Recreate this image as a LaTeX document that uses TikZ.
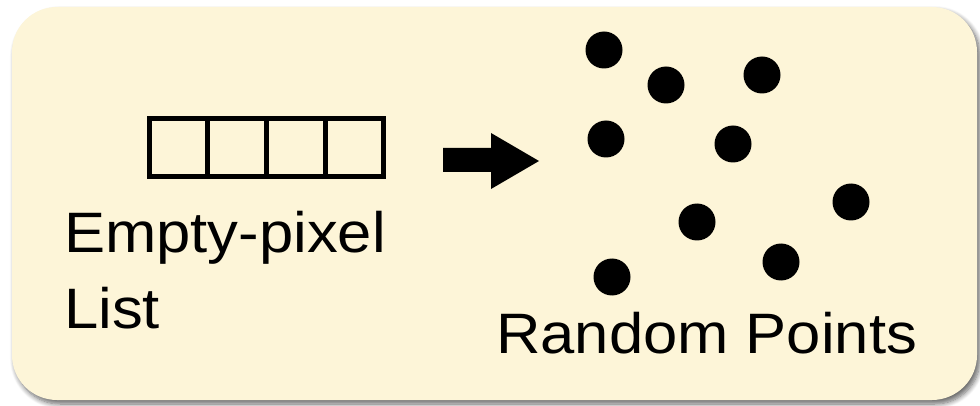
\documentclass[tikz,border=0pt]{standalone}
\usepackage{fontspec}
\setmainfont{Liberation Sans}
\newfontfamily\labfont[FakeStretch=1.08]{Liberation Sans}
\usetikzlibrary{shadows.blur}
\definecolor{cream}{HTML}{FDF5D8}
\tikzset{
  panel/.style={fill=cream, draw=none, rounded corners=45pt,
    blur shadow={shadow xshift=3pt, shadow yshift=-4pt, shadow blur steps=8, shadow blur radius=5pt, shadow opacity=60}},
  cell/.style={draw=black, line width=5pt, minimum width=58.75pt, minimum height=58pt, inner sep=0pt},
  dot/.style={circle, fill=black, minimum size=37pt, inner sep=0pt},
  lab/.style={font=\labfont\fontsize{57pt}{68pt}\selectfont, inner sep=0pt, anchor=base west},
  bigarrow/.style={fill=black}
}
\begin{document}
\begin{tikzpicture}[x=1pt,y=-1pt]
\useasboundingbox (0,0) rectangle (980,406);
\fill[panel] (12,7) rectangle (977,400);
% list cells
\node[cell] (c1) at (178.4,148) {};
\node[cell] (c2) at (237.1,148) {};
\node[cell] (c3) at (295.9,148) {};
\node[cell] (c4) at (354.6,148) {};
% arrow
\fill[bigarrow] (443,148) -- (491,148) -- (491,133) -- (539,161) -- (491,189) -- (491,172) -- (443,172) -- cycle;
% dots
\node[dot] (p1) at (604,50) {};
\node[dot] (p2) at (666,85) {};
\node[dot] (p3) at (762,75) {};
\node[dot] (p4) at (606,139) {};
\node[dot] (p5) at (733,144) {};
\node[dot] (p6) at (851,202) {};
\node[dot] (p7) at (697,222) {};
\node[dot] (p8) at (781,262) {};
\node[dot] (p9) at (612,277) {};
% labels
\node[lab] (l1) at (64,253) {Empty-pixel};
\node[lab] (l2) at (64,328) {List};
\node[lab] (l3) at (496,353) {Random Points};
\end{tikzpicture}
\end{document}
